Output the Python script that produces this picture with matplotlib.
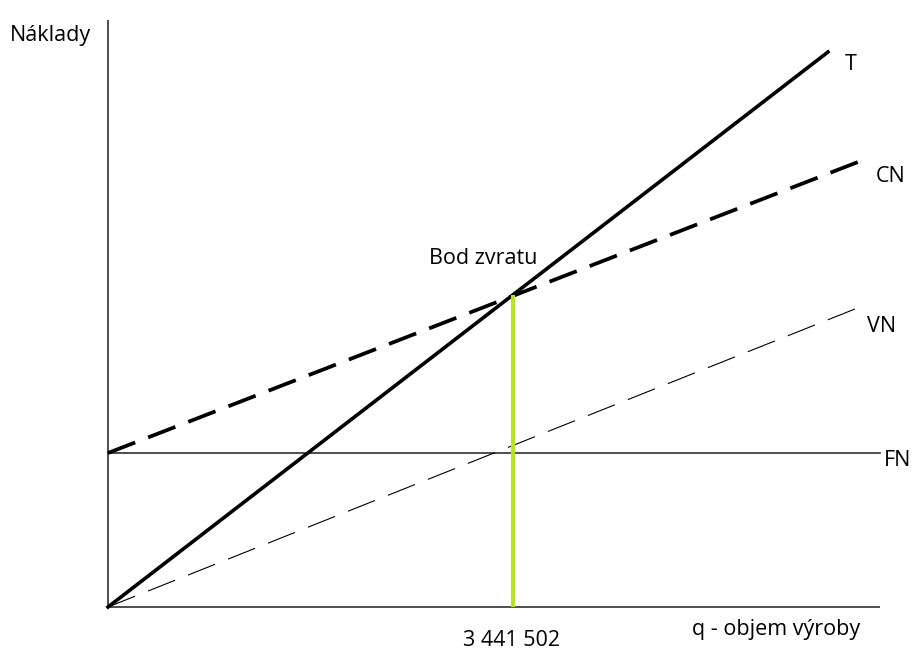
import matplotlib
matplotlib.use("Agg")
import matplotlib.pyplot as plt

plt.rcParams['font.family'] = ['Open Sans', 'DejaVu Sans']
plt.rcParams['lines.scale_dashes'] = False

# Data (q = production volume, costs in arbitrary units)
breakeven_q = 3441502
breakeven_cost = 312
fixed_cost = 154
q_T = [0, 6118000]
T_vals = [0, 555]
q_CN = [0, 6373000]
CN_vals = [154, 445]
q_VN = [0, 6390000]
VN_vals = [0, 300]
q_FN = [0, 6560000]
FN_vals = [154, 154]
axis_q_max = 6560000
axis_y_max = 587
labels = {"T": "T", "CN": "CN", "VN": "VN", "FN": "FN"}
breakeven_label = "Bod zvratu"
tick_label = "3 441 502"
xlabel = "q - objem výroby"
ylabel = "Náklady"

px = 8497.5  # q units per pixel
fig = plt.figure(figsize=(9.13, 6.51), dpi=100)
ax = fig.add_axes([0, 0, 1, 1])
ax.set_xlim(-108 * px, (913 - 108) * px)
ax.set_ylim(-44, 607)
ax.axis('off')

# axes lines
ax.plot([0, 0], [0, axis_y_max], color='#404040', lw=1.3, solid_capstyle='butt')
ax.plot([0, axis_q_max], [0, 0], color='#404040', lw=1.3, solid_capstyle='butt')

# FN
ax.plot(q_FN, FN_vals, color='#303030', lw=1.2)
# VN
ax.plot(q_VN, VN_vals, color='black', lw=0.8, dashes=(21, 10))
# CN
ax.plot(q_CN, CN_vals, color='black', lw=2.7, dashes=(21, 10))
# T
ax.plot(q_T, T_vals, color='black', lw=2.6)
# break-even
ax.plot([breakeven_q, breakeven_q], [0, breakeven_cost], color='#b5e61d', lw=3, solid_capstyle='butt')

fs = 15.5
ax.text(q_T[1] + 17 * px, T_vals[1] - 12, labels["T"], fontsize=fs, va='center', ha='left')
ax.text(q_CN[1] + 18 * px, CN_vals[1] - 14, labels["CN"], fontsize=fs, va='center', ha='left')
ax.text(q_VN[1] + 7 * px, VN_vals[1] - 20, labels["VN"], fontsize=fs, va='center', ha='left')
ax.text(q_FN[1] + 4 * px, FN_vals[1] - 8, labels["FN"], fontsize=fs, va='center', ha='left')
ax.text(breakeven_q - 30 * px, breakeven_cost + 37, breakeven_label, fontsize=fs, va='center', ha='center')
ax.text(breakeven_q - 2 * px, -34, tick_label, fontsize=fs, va='center', ha='center')
ax.text(axis_q_max - 104 * px, -23, xlabel, fontsize=fs, va='center', ha='center')
ax.text(-98 * px, 572, ylabel, fontsize=fs, va='center', ha='left')

fig.savefig('out.png', dpi=100)
